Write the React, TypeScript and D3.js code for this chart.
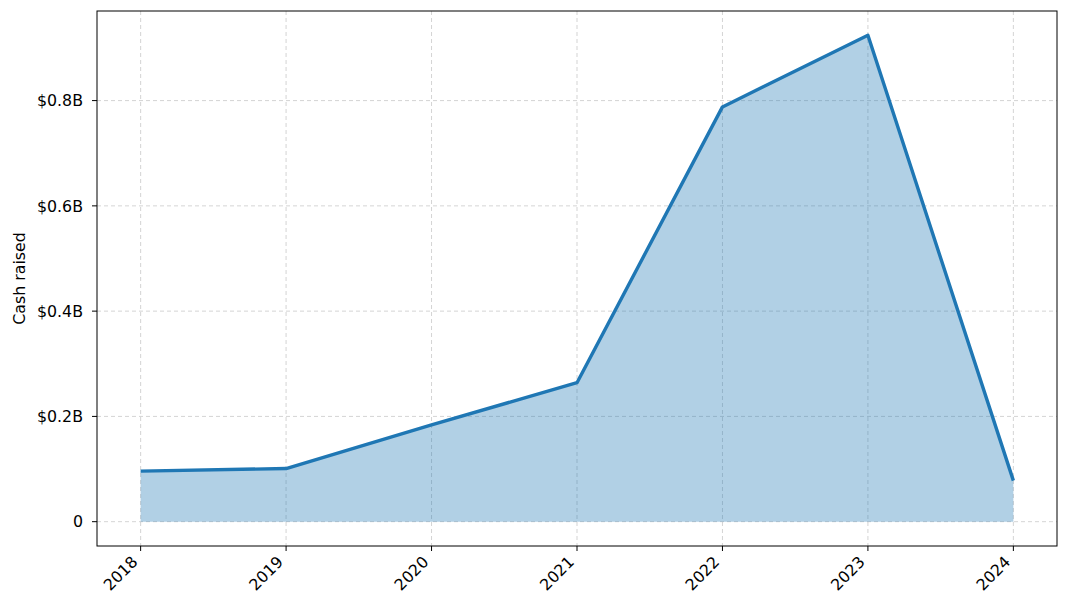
import React from "react";
import * as d3 from "d3";

const years = ["2018", "2019", "2020", "2021", "2022", "2023", "2024"];
const cashRaised = [0.096, 0.101, 0.184, 0.264, 0.788, 0.924, 0.078];
const yTicks = [0, 0.2, 0.4, 0.6, 0.8];
const yLabel = "Cash raised";

const W = 1068;
const H = 612;
const M = { left: 97, right: 1057, top: 11, bottom: 546 };
const FONT = "DejaVu Sans, sans-serif";
const FS = 15.8;
const BLUE = "#1f77b4";

function fmt(v: number) {
  return v === 0 ? "0" : `$${v.toFixed(1)}B`;
}

export default function App() {
  const xIdx = years.map((_, i) => i);
  const xr = [0, years.length - 1];
  const xpad = (xr[1] - xr[0]) * 0.05;
  const x = d3.scaleLinear().domain([xr[0] - xpad, xr[1] + xpad]).range([M.left, M.right]);
  const ymin = Math.min(0, d3.min(cashRaised)!);
  const ymax = d3.max(cashRaised)!;
  const ypad = (ymax - ymin) * 0.05;
  const y = d3.scaleLinear().domain([ymin - ypad, ymax + ypad]).range([M.bottom, M.top]);

  const pts: [number, number][] = cashRaised.map((v, i) => [xIdx[i], v]);
  const area = d3
    .area<[number, number]>()
    .x((d) => x(d[0]))
    .y0(() => y(0))
    .y1((d) => y(d[1]));
  const line = d3
    .line<[number, number]>()
    .x((d) => x(d[0]))
    .y((d) => y(d[1]));

  return (
    <svg width={W} height={H} style={{ position: "absolute", left: 0, top: 0, background: "#fff" }} fontFamily={FONT}>
      <rect x={0} y={0} width={W} height={H} fill="#fff" />
      <g stroke="#b0b0b0" strokeOpacity={0.55} strokeWidth={1} strokeDasharray="4,3">
        {xIdx.map((i) => (
          <line key={"gx" + i} x1={x(i)} x2={x(i)} y1={M.top} y2={M.bottom} />
        ))}
        {yTicks.map((t) => (
          <line key={"gy" + t} x1={M.left} x2={M.right} y1={y(t)} y2={y(t)} />
        ))}
      </g>
      <path d={area(pts)!} fill={BLUE} fillOpacity={0.35} />
      <path d={line(pts)!} fill="none" stroke={BLUE} strokeWidth={3.4} strokeLinejoin="round" />
      <rect x={M.left} y={M.top} width={M.right - M.left} height={M.bottom - M.top} fill="none" stroke="#000" strokeWidth={1} />
      {yTicks.map((t) => (
        <g key={"yt" + t} transform={`translate(${M.left},${y(t)})`}>
          <line x1={0} x2={-5} stroke="#000" />
          <text x={-14} dy="0.36em" textAnchor="end" fontSize={FS} fill="#000">
            {fmt(t)}
          </text>
        </g>
      ))}
      {xIdx.map((i) => (
        <g key={"xt" + i} transform={`translate(${x(i)},${M.bottom})`}>
          <line y1={0} y2={5} stroke="#000" />
          <text transform="translate(-2,17) rotate(-45)" textAnchor="end" fontSize={FS} fill="#000">
            {years[i]}
          </text>
        </g>
      ))}
      <text
        transform={`translate(25,${(M.top + M.bottom) / 2}) rotate(-90)`}
        textAnchor="middle"
        fontSize={FS}
        fill="#000"
      >
        {yLabel}
      </text>
    </svg>
  );
}
